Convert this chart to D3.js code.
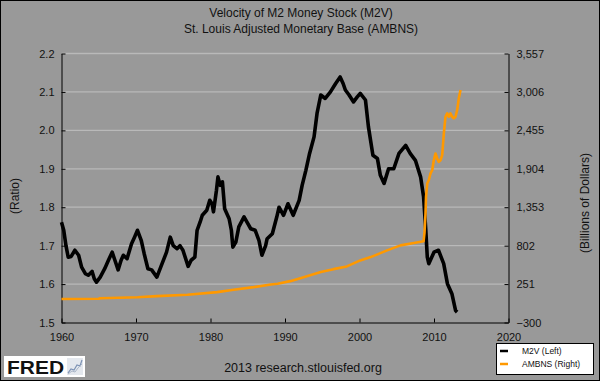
<!DOCTYPE html>
<html>
<head>
<meta charset="utf-8">
<script src="https://cdn.jsdelivr.net/npm/d3@7"></script>
<style>
  html, body { margin: 0; padding: 0; background: #999; }
  svg { display: block; font-family: "Liberation Sans", Arial, sans-serif; }
</style>
</head>
<body>
<svg id="chart" width="600" height="381"></svg>
<script>
// ---- Data ----
const titleLines = ["Velocity of M2 Money Stock (M2V)", "St. Louis Adjusted Monetary Base (AMBNS)"];
const seriesNames = ["M2V (Left)", "AMBNS (Right)"];

const m2vDates = [1960.0, 1960.3, 1960.6, 1960.9, 1961.3, 1961.8, 1962.3, 1962.7, 1963.2, 1963.6,
  1964.1, 1964.4, 1964.7, 1965.2, 1965.8, 1966.3, 1966.8, 1967.1, 1967.6, 1968.0,
  1968.3, 1968.8, 1969.4, 1969.8, 1970.2, 1970.7, 1971.1, 1971.6, 1972.1, 1972.8,
  1973.5, 1974.1, 1974.6, 1975.0, 1975.5, 1975.9, 1976.3, 1977.0, 1977.4, 1977.9,
  1978.2, 1978.6, 1978.9, 1979.5, 1979.9, 1980.2, 1980.4, 1980.8, 1981.0, 1981.3,
  1981.6, 1981.9, 1982.5, 1982.8, 1983.0, 1983.4, 1983.8, 1984.5, 1984.9, 1985.4,
  1986.0, 1986.5, 1986.9, 1987.4, 1987.6, 1988.3, 1988.9, 1989.2, 1989.8, 1990.4,
  1991.1, 1991.9, 1992.3, 1992.8, 1993.3, 1993.9, 1994.3, 1994.8, 1995.4, 1996.1,
  1996.8, 1997.4, 1997.8, 1998.1, 1998.6, 1999.2, 1999.7, 2000.1, 2000.8, 2001.2,
  2001.8, 2002.4, 2002.8, 2003.3, 2003.9, 2004.6, 2005.3, 2006.2, 2006.8, 2007.5,
  2008.2, 2008.6, 2008.9, 2009.1, 2009.3, 2010.0, 2010.6, 2011.3, 2011.8, 2012.4,
  2012.9, 2013.1];
const m2vValues = [1.761, 1.740, 1.700, 1.670, 1.672, 1.688, 1.675, 1.644, 1.627, 1.623,
  1.633, 1.614, 1.605, 1.618, 1.640, 1.662, 1.683, 1.666, 1.637, 1.662,
  1.675, 1.666, 1.705, 1.722, 1.740, 1.714, 1.679, 1.640, 1.637, 1.618,
  1.653, 1.683, 1.722, 1.700, 1.692, 1.700, 1.688, 1.646, 1.662, 1.670,
  1.740, 1.761, 1.779, 1.792, 1.818, 1.809, 1.788, 1.844, 1.879, 1.857,
  1.866, 1.796, 1.770, 1.740, 1.696, 1.709, 1.749, 1.775, 1.761, 1.744,
  1.740, 1.714, 1.675, 1.700, 1.718, 1.731, 1.775, 1.800, 1.779, 1.809,
  1.779, 1.818, 1.857, 1.896, 1.940, 1.983, 2.044, 2.092, 2.083, 2.100,
  2.122, 2.139, 2.122, 2.105, 2.092, 2.074, 2.087, 2.096, 2.079, 2.009,
  1.935, 1.927, 1.883, 1.862, 1.900, 1.900, 1.940, 1.961, 1.940, 1.922,
  1.879, 1.827, 1.740, 1.670, 1.653, 1.683, 1.688, 1.653, 1.601, 1.575,
  1.531, 1.527];

const ambnsDates = [1960.0, 1965.0, 1965.2, 1970.2, 1972.8, 1976.9, 1980.9, 1983.1, 1985.8, 1988.1,
  1989.0, 1990.7, 1992.5, 1994.8, 1996.5, 1998.3, 2000.1, 2001.5, 2003.7, 2005.5,
  2007.3, 2008.6, 2008.72, 2008.86, 2008.93, 2009.09, 2009.30, 2009.53, 2009.76, 2009.97,
  2010.2, 2010.43, 2010.64, 2010.87, 2011.10, 2011.32, 2011.54, 2011.77, 2011.99, 2012.21,
  2012.44, 2012.66, 2012.89, 2013.11, 2013.33, 2013.56];
const ambnsValues = [38, 40, 48, 63, 78, 98, 136, 170, 207, 246,
  256, 293, 350, 423, 465, 504, 590, 638, 734, 806,
  839, 864, 980, 1262, 1500, 1693, 1740, 1836, 1884, 2027,
  2123, 2051, 2003, 2027, 2099, 2410, 2650, 2698, 2650, 2698,
  2650, 2626, 2650, 2746, 2914, 3033];

const leftTicks = [1.5, 1.6, 1.7, 1.8, 1.9, 2.0, 2.1, 2.2];
const rightTicks = [-300, 251, 802, 1353, 1904, 2455, 3006, 3557];
const yearTicks = [1960, 1970, 1980, 1990, 2000, 2010, 2020];

// ---- Layout ----
const W = 600, H = 381;
const L = 61.5, R = 508.5, T = 53.5, B = 322.5;
const bg = "#999999", grid = "#b9b9b9", ink = "#111", orange = "#ff9900";

const svg = d3.select("#chart");
svg.append("rect").attr("width", W).attr("height", H).attr("fill", bg);

const x = d3.scaleLinear().domain([1960, 2020]).range([L, R]);
const yL = d3.scaleLinear().domain([1.5, 2.2]).range([B, T]);
const yR = d3.scaleLinear().domain([-300, 3557]).range([B, T]);

// gridlines
svg.append("g").selectAll("line").data(leftTicks.slice(1)).join("line")
  .attr("x1", L).attr("x2", R)
  .attr("y1", d => yL(d)).attr("y2", d => yL(d))
  .attr("stroke", grid).attr("stroke-width", 1.3);

// titles
svg.append("g").selectAll("text").data(titleLines).join("text")
  .attr("x", 301).attr("y", (d, i) => 17 + i * 16)
  .attr("text-anchor", "middle").attr("font-size", 12).attr("fill", ink)
  .text(d => d);

// axes
function styleAxis(g) {
  g.selectAll("path.domain").attr("stroke", "#000").attr("stroke-width", 1);
  g.selectAll(".tick line").attr("stroke", "#000").attr("stroke-width", 1);
  g.selectAll("text").attr("fill", ink).attr("font-size", 11)
    .attr("font-family", "'Liberation Sans', Arial, sans-serif");
}
svg.append("g").attr("transform", `translate(${L},0)`)
  .call(d3.axisLeft(yL).tickValues(leftTicks).tickFormat(d3.format(".1f"))
    .tickSizeInner(-4).tickSizeOuter(0).tickPadding(7))
  .call(styleAxis);
svg.append("g").attr("transform", `translate(${R},0)`)
  .call(d3.axisRight(yR).tickValues(rightTicks).tickFormat(d3.format(","))
    .tickSizeInner(-4).tickSizeOuter(0).tickPadding(8))
  .call(styleAxis);
svg.append("g").attr("transform", `translate(0,${B})`)
  .call(d3.axisBottom(x).tickValues(yearTicks).tickFormat(d3.format("d"))
    .tickSizeInner(-4).tickSizeOuter(0).tickPadding(11))
  .call(styleAxis);

// axis titles
svg.append("text").attr("transform", "translate(19,196) rotate(-90)")
  .attr("text-anchor", "middle").attr("font-size", 12).attr("fill", ink).text("(Ratio)");
svg.append("text").attr("transform", "translate(589,203) rotate(-90)")
  .attr("text-anchor", "middle").attr("font-size", 12).attr("fill", ink).text("(Billions of Dollars)");

// series
const m2v = m2vDates.map((d, i) => [d, m2vValues[i]]);
const amb = ambnsDates.map((d, i) => [d, ambnsValues[i]]);
svg.append("path").datum(m2v)
  .attr("d", d3.line().x(d => x(d[0])).y(d => yL(d[1])))
  .attr("fill", "none").attr("stroke", "#000").attr("stroke-width", 3.6)
  .attr("stroke-linejoin", "round");
svg.append("path").datum(amb)
  .attr("d", d3.line().x(d => x(d[0])).y(d => yR(d[1])))
  .attr("fill", "none").attr("stroke", orange).attr("stroke-width", 2.6)
  .attr("stroke-linejoin", "round");

// legend
const lg = svg.append("g");
lg.append("rect").attr("x", 496.5).attr("y", 343.5).attr("width", 97).attr("height", 31)
  .attr("fill", "#fff").attr("stroke", "#000").attr("stroke-width", 1);
[["#000", 351], [orange, 364]].forEach((c, i) => {
  lg.append("line").attr("x1", 500).attr("x2", 508).attr("y1", c[1]).attr("y2", c[1])
    .attr("stroke", c[0]).attr("stroke-width", 2.5);
  lg.append("text").attr("x", 522).attr("y", c[1] + 3).attr("font-size", 8.5)
    .attr("fill", ink).text(seriesNames[i]);
});

// source
svg.append("text").attr("x", 303).attr("y", 372).attr("text-anchor", "middle")
  .attr("font-size", 12.5).attr("fill", ink).text("2013 research.stlouisfed.org");

// FRED logo
const logo = svg.append("g");
logo.append("rect").attr("x", 4).attr("y", 356).attr("width", 81).attr("height", 21).attr("fill", "#fff");
logo.append("text").attr("x", 7).attr("y", 373.5).attr("font-size", 18).attr("font-weight", 900)
  .attr("textLength", 57).attr("lengthAdjust", "spacingAndGlyphs")
  .attr("font-family", "'Liberation Sans', Arial, sans-serif").attr("fill", "#111").text("FRED");
logo.append("rect").attr("x", 67).attr("y", 358).attr("width", 16).attr("height", 17).attr("fill", "#e4e8ee");
logo.append("path").attr("d", "M68,373 L71,369 L74,370 L77,365 L80,366 L82,360")
  .attr("fill", "none").attr("stroke", "#7d93b5").attr("stroke-width", 1.2);
logo.append("path").attr("d", "M68,374 L72,371 L75,372 L78,368 L82,364")
  .attr("fill", "none").attr("stroke", "#aab6c8").attr("stroke-width", 1);

// outer border
svg.append("rect").attr("x", 0.5).attr("y", 0.5).attr("width", W - 1).attr("height", H - 1)
  .attr("fill", "none").attr("stroke", "#000").attr("stroke-width", 1);
</script>
</body>
</html>
